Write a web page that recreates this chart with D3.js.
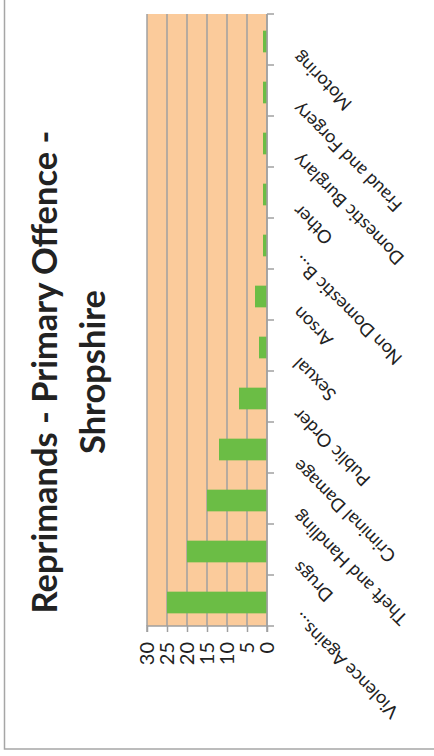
<!DOCTYPE html>
<html><head><meta charset="utf-8">
<script src="https://cdn.jsdelivr.net/npm/d3@7"></script>
<style>html,body{margin:0;padding:0;background:#fff;} svg{display:block}</style>
</head><body>
<script>
const categories = ["Violence Agains…","Drugs","Theft and Handling","Criminal Damage","Public Order","Sexual","Arson","Non Domestic B…","Other","Domestic Burglary","Fraud and Forgery","Motoring"];
const values = [25,20,15,12,7,2,3,1,1,1,1,1];
const valueTicks = [0,5,10,15,20,25,30];
const titleLines = ["Reprimands - Primary Offence -","Shropshire"];

const W = 434, H = 756;
const svg = d3.select("body").append("svg").attr("width", W).attr("height", H);
// chart is laid out in an unrotated frame (H wide, W tall), then turned -90deg
const CW = H, CH = W;
const g = svg.append("g").attr("transform", `translate(0,${H}) rotate(-90)`);
const FONT = "Lato, 'Open Sans', 'DejaVu Sans', sans-serif";

g.append("rect").attr("x", 7).attr("y", 4.5).attr("width", CW + 20).attr("height", CH + 20)
  .attr("fill", "#fff").attr("stroke", "#a6a6a6").attr("stroke-width", 1.5);

const plot = {left: 130, right: 742, top: 147, bottom: 267};
const x = d3.scaleBand().domain(categories).range([plot.left, plot.right]);
const xb = d3.scaleBand().domain(categories).range([plot.left, plot.right]).paddingInner(0.575).paddingOuter(0.2875);
const y = d3.scaleLinear().domain([0, 30]).range([plot.bottom, plot.top]);

g.append("rect").attr("x", plot.left).attr("y", plot.top)
  .attr("width", plot.right - plot.left).attr("height", plot.bottom - plot.top).attr("fill", "#fbcb9b");

// gridlines
g.append("g").selectAll("line").data(valueTicks).join("line")
  .attr("x1", plot.left).attr("x2", plot.right).attr("y1", d => y(d)).attr("y2", d => y(d))
  .attr("stroke", "#a0a0a0").attr("stroke-width", 1.5);

// bars
g.append("g").selectAll("rect").data(values).join("rect")
  .attr("x", (d, i) => xb(categories[i]) - 2).attr("width", xb.bandwidth())
  .attr("y", d => y(d)).attr("height", d => y(0) - y(d)).attr("fill", "#6bbd45");

// value axis
const yAxis = d3.axisLeft(y).tickValues(valueTicks).tickSize(6).tickPadding(10);
const ya = g.append("g").attr("transform", `translate(${plot.left},0)`).call(yAxis);
ya.select(".domain").attr("stroke", "#a0a0a0").attr("stroke-width", 1.5).attr("d", `M-6,${plot.bottom}H0V${plot.top}H-6`);
ya.selectAll(".tick line").attr("stroke", "#a0a0a0").attr("stroke-width", 1.5);
ya.selectAll(".tick text").attr("font-family", FONT).attr("fill", "#222").attr("font-size", 20);

// category axis
const bounds = categories.map(c => x(c)).concat([plot.right]);
g.append("line").attr("x1", plot.left).attr("x2", plot.right).attr("y1", plot.bottom).attr("y2", plot.bottom)
  .attr("stroke", "#a0a0a0").attr("stroke-width", 1.5);
g.append("g").selectAll("line").data(bounds).join("line")
  .attr("x1", d => d).attr("x2", d => d).attr("y1", plot.bottom).attr("y2", plot.bottom + 7)
  .attr("stroke", "#a0a0a0").attr("stroke-width", 1.5);

const labels = g.append("g").selectAll("text").data(categories).join("text")
  .attr("transform", d => `translate(${x(d) + x.bandwidth() / 2 - 15.5},${plot.bottom + 29}) rotate(-45)`)
  .attr("text-anchor", "end").attr("dy", "0.35em")
  .attr("font-family", FONT).attr("font-size", 16).attr("fill", "#222")
  .text(d => d);
// fit label size to the reference length of "Theft and Handling"
const refLabel = labels.filter(d => d === "Theft and Handling").node();
const lblSize = 16 * 153 / refLabel.getComputedTextLength();
labels.attr("font-size", lblSize);

// title
const title = g.append("g").selectAll("text").data(titleLines).join("text")
  .attr("x", 384).attr("y", (d, i) => 57 + i * 48)
  .attr("text-anchor", "middle").attr("font-family", FONT).attr("font-weight", "bold")
  .attr("font-size", 28).attr("fill", "#222").text(d => d);
const tSize = 28 * 483 / title.filter((d, i) => i === 0).node().getComputedTextLength();
title.attr("font-size", tSize);
</script>
</body></html>
